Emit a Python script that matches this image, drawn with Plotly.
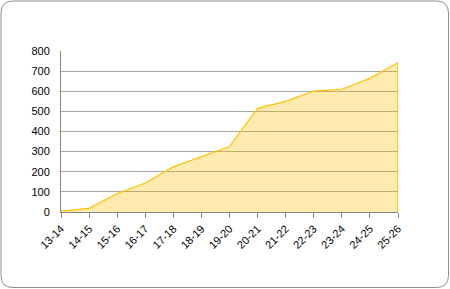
import plotly.graph_objects as go

categories = ["13-14", "14-15", "15-16", "16-17", "17-18", "18-19", "19-20",
              "20-21", "21-22", "22-23", "23-24", "24-25", "25-26"]
values = [4, 18, 92, 144, 224, 276, 325, 515, 550, 601, 610, 664, 742]
y_ticks = [0, 100, 200, 300, 400, 500, 600, 700, 800]

W, H = 450, 289
L, R, T, B = 61, 52, 51, 77

idx = list(range(len(categories)))

fig = go.Figure()
fig.add_trace(go.Scatter(
    x=idx, y=values, mode="lines", fill="tozeroy",
    line=dict(color="#FFC000", width=1.2),
    fillcolor="rgba(255,192,0,0.31)",
    hoverinfo="skip",
))
# closing edge of the area at the last category
fig.add_trace(go.Scatter(
    x=[idx[-1], idx[-1]], y=[0, values[-1]], mode="lines",
    line=dict(color="#FFC000", width=1.5), hoverinfo="skip",
    cliponaxis=False,
))

def px2paper_x(px):
    return (px - L) / (W - L - R)

def px2paper_y(py):
    return 1 - (py - T) / (H - T - B)

# rounded frame
x0, x1, y0, y1, rr = 1, 448.5, 1, 287.5, 12
def P(x, y):
    return f"{px2paper_x(x):.5f},{px2paper_y(y):.5f}"
path = (f"M {P(x0+rr, y0)} L {P(x1-rr, y0)} Q {P(x1, y0)} {P(x1, y0+rr)} "
        f"L {P(x1, y1-rr)} Q {P(x1, y1)} {P(x1-rr, y1)} "
        f"L {P(x0+rr, y1)} Q {P(x0, y1)} {P(x0, y1-rr)} "
        f"L {P(x0, y0+rr)} Q {P(x0, y0)} {P(x0+rr, y0)} Z")
fig.add_shape(type="path", path=path, xref="paper", yref="paper",
              line=dict(color="#8C8C8C", width=1), layer="below")

fig.update_layout(
    width=W, height=H,
    margin=dict(l=L, r=R, t=T, b=B, pad=0),
    paper_bgcolor="white", plot_bgcolor="white",
    showlegend=False,
    font=dict(family="Liberation Sans", size=11, color="#000000"),
    xaxis=dict(
        range=[0, len(categories) - 1],
        tickmode="array", tickvals=idx, ticktext=categories,
        tickangle=-45, showgrid=False, zeroline=False,
        showline=True, linecolor="#868686", linewidth=1,
        ticks="outside", ticklen=5, tickcolor="#868686",
        fixedrange=True,
    ),
    yaxis=dict(
        range=[0, 800], tickmode="array", tickvals=y_ticks,
        showgrid=True, gridcolor="#A6A6A6", gridwidth=1,
        zeroline=False, showline=True, linecolor="#868686", linewidth=1,
        ticks="", ticklabelstandoff=8, fixedrange=True,
    ),
)

fig.write_html("out.html")
